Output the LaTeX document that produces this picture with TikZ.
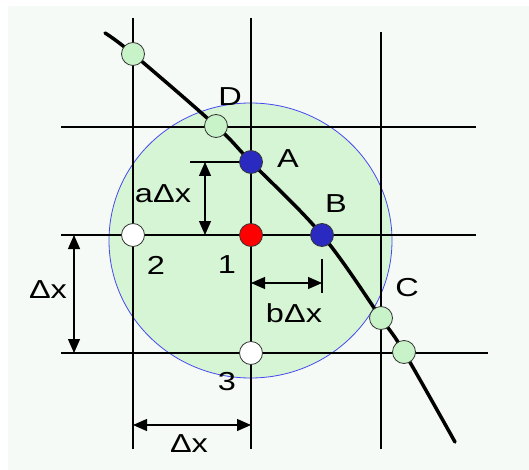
\documentclass[tikz,border=0pt]{standalone}
\usepackage{fontspec}
\setmainfont{Liberation Sans}
\usetikzlibrary{arrows.meta}
\definecolor{bgcol}{HTML}{F5FAF7}
\definecolor{discfill}{HTML}{D6F5D4}
\definecolor{discedge}{HTML}{4848F0}
\definecolor{greendot}{HTML}{C8F2C8}
\definecolor{bluedot}{HTML}{2A2AC0}
\tikzset{
 gridline/.style={line width=1.2pt, black},
 dot/.style={circle, minimum size=23pt, inner sep=0pt, draw=black!80, line width=0.8pt},
 gdot/.style={dot, fill=greendot},
 bdot/.style={dot, fill=bluedot},
 rdot/.style={dot, fill=red},
 wdot/.style={dot, fill=white},
 lbl/.style={font=\fontsize{26}{28}\selectfont, inner sep=0pt},
 dimline/.style={line width=1.2pt, {Triangle[length=14pt,width=12pt]}-{Triangle[length=14pt,width=12pt]}},
 extline/.style={line width=1.2pt},
 curveline/.style={line width=3.5pt, line cap=round}
}
\newcommand{\widetext}[1]{\scalebox{1.25}[1]{#1}}
\begin{document}
\begin{tikzpicture}[x=1pt,y=-1pt]
\useasboundingbox (0,0) rectangle (529,470);
\fill[bgcol] (8,6) rectangle (529,470);
\filldraw[fill=discfill, draw=discedge, line width=0.8pt] (250.5,240.5) ellipse [x radius=141.5, y radius=137.5];
% grid
\coordinate (v1t) at (133,18);  \coordinate (v1b) at (133,449);
\coordinate (v2t) at (251,18);  \coordinate (v2b) at (251,449);
\coordinate (v3t) at (381,32);  \coordinate (v3b) at (381,449);
\coordinate (h1l) at (61,127);  \coordinate (h1r) at (476,127);
\coordinate (h2l) at (61,235);  \coordinate (h2r) at (476,235);
\coordinate (h3l) at (61,353);  \coordinate (h3r) at (488,353);
\draw[gridline] (v1t) -- (v1b);
\draw[gridline] (v2t) -- (v2b);
\draw[gridline] (v3t) -- (v3b);
\draw[gridline] (h1l) -- (h1r);
\draw[gridline] (h2l) -- (h2r);
\draw[gridline] (h3l) -- (h3r);
% points
\coordinate (cs) at (105,33);
\coordinate (pG1) at (133,54);
\coordinate (pD) at (216,126);
\coordinate (pA) at (251,162);
\coordinate (pB) at (322,235);
\coordinate (pC) at (381,318);
\coordinate (pG2) at (404,352);
\coordinate (ce) at (455,442);
% dimension lines
\coordinate (aext) at (190,162);
\coordinate (atop) at (205,162);
\coordinate (abot) at (205,235);
\draw[extline] (aext) -- (pA);
\draw[dimline] (atop) -- (abot);
\coordinate (btop) at (322,259);
\coordinate (bbot) at (322,293);
\coordinate (bl) at (251,283);
\coordinate (br) at (322,283);
\draw[extline] (btop) -- (bbot);
\draw[dimline] (bl) -- (br);
\coordinate (lt) at (74,235);
\coordinate (lb) at (74,353);
\draw[dimline] (lt) -- (lb);
\coordinate (bxl) at (133,425);
\coordinate (bxr) at (251,425);
\draw[dimline] (bxl) -- (bxr);
% curve
\draw[curveline] plot[smooth, tension=0.6] coordinates {(cs) (pG1) (pD) (pA) (pB) (pC) (pG2) (ce)};
% dots
\node[gdot] (G1) at (pG1) {};
\node[gdot] (D) at (pD) {};
\node[bdot] (A) at (pA) {};
\node[bdot] (B) at (pB) {};
\node[gdot] (C) at (pC) {};
\node[gdot] (G2) at (pG2) {};
\node[rdot] (P1) at (251,235) {};
\node[wdot] (P2) at (133,235) {};
\node[wdot] (P3) at (251,353) {};
% labels
\node[lbl] (lD) at (230,97) {\widetext{D}};
\node[lbl] (lA) at (288,159) {\widetext{A}};
\node[lbl] (lB) at (336,204) {\widetext{B}};
\node[lbl] (lC) at (407,288) {\widetext{C}};
\node[lbl] (l1) at (227,265) {\widetext{1}};
\node[lbl] (l2) at (156,265) {\widetext{2}};
\node[lbl] (l3) at (227,382) {\widetext{3}};
\node[lbl] (ladx) at (163,194) {\widetext{aΔx}};
\node[lbl] (lbdx) at (294,313) {\widetext{bΔx}};
\node[lbl] (ldxl) at (48,290) {\widetext{Δx}};
\node[lbl] (ldxb) at (189,444) {\widetext{Δx}};
\end{tikzpicture}
\end{document}
